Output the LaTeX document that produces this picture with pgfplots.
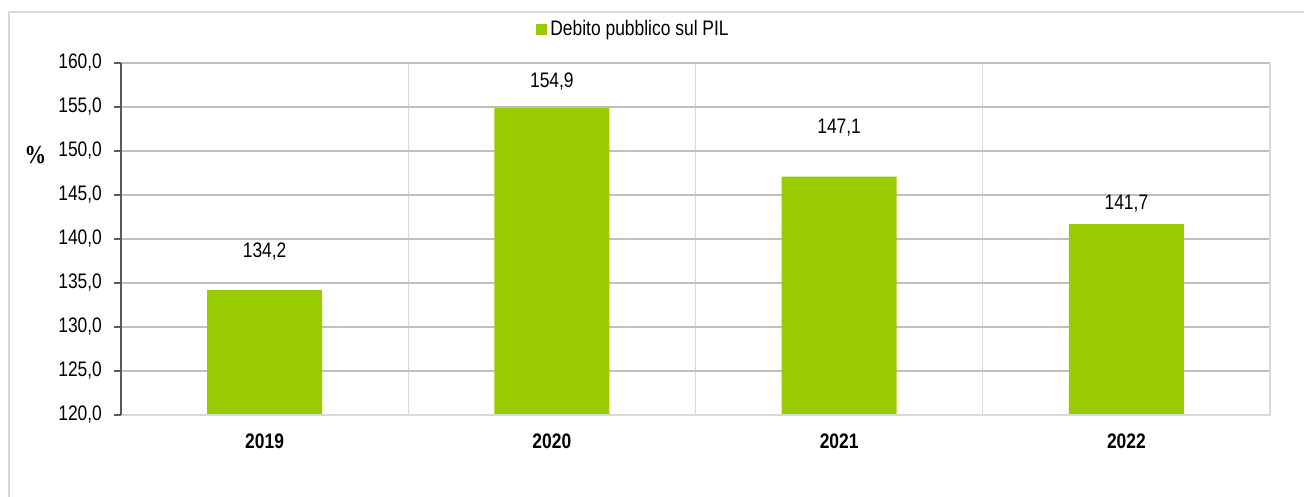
\documentclass[border=0pt]{standalone}
\usepackage{pgfplots}
\pgfplotsset{compat=1.18}
\usepackage{pgfplotstable}
\usepackage{fontspec}
\setmainfont{Liberation Sans}[FakeStretch=0.83]
\newfontfamily\pctfont{Liberation Serif}[FakeStretch=0.83]
\definecolor{barg}{HTML}{99CC00}
\definecolor{gridh}{HTML}{C0C0C0}
\definecolor{gridv}{HTML}{D9D9D9}
\definecolor{axdark}{HTML}{595959}
\pgfplotstableread{
x y lab
0 134.2 19.5
1 154.9 13
2 147.1 24.3
3 141.7 10
}\datatable

\begin{document}
\begin{tikzpicture}
\useasboundingbox (-60.5pt,-41pt) rectangle (591.5pt,207.5pt);
\draw[gridv, line width=0.75pt] (-56pt,-45pt) -- (-56pt,201.5pt) -- (600pt,201.5pt);
\begin{axis}[
  at={(0,0)}, anchor=south west,
  scale only axis, width=574.5pt, height=176pt,
  xmin=-0.5, xmax=3.5, ymin=120, ymax=160,
  ytick={120,125,...,160},
  xtick={0,1,2,3}, xticklabels={2019,2020,2021,2022},
  minor xtick={0.5,1.5,2.5},
  ymajorgrids, xminorgrids,
  major grid style={gridh, line width=0.6pt},
  minor grid style={gridv, line width=0.6pt},
  axis line style={draw=none},
  tick align=outside,
  ytick pos=left, xtick pos=bottom,
  ytick style={axdark, line width=0.6pt},
  major tick length=3.5pt,
  minor tick length=0pt,
  xtick style={draw=none},
  yticklabel style={/pgf/number format/fixed, /pgf/number format/fixed zerofill,
    /pgf/number format/precision=1, /pgf/number format/use comma,
    /pgf/number format/assume math mode=true,
    font=\fontsize{10.5}{12}\selectfont, anchor=east, xshift=-2.5pt},
  xticklabel style={font=\bfseries\fontsize{10.5}{12}\selectfont, anchor=center, yshift=-9.5pt},
  legend style={draw=none, fill=none, at={(0.4465,1.095)}, anchor=center,
    font=\fontsize{10.5}{12}\selectfont, nodes={inner sep=1.5pt}},
  legend image code/.code={\fill[barg] (0pt,-2.75pt) rectangle (5.5pt,2.75pt);},
  clip=false,
]
\addplot[ybar, bar width=0.4, bar shift=0pt, fill=barg, draw=none,
  nodes near coords={\pgfmathprintnumber[fixed,fixed zerofill,precision=1,use comma,assume math mode=true]{\pgfplotspointmeta}},
  visualization depends on={\thisrow{lab} \as \labshift},
  every node near coord/.append style={anchor=center, yshift=\labshift pt, font=\fontsize{10.5}{12}\selectfont, text=black}
] table[x=x, y=y] {\datatable};
\addlegendentry{Debito pubblico sul PIL}
\draw[gridv, line width=0.75pt] (rel axis cs:0,0) -- (rel axis cs:1,0) -- (rel axis cs:1,1);
\draw[axdark, line width=0.75pt] (rel axis cs:0,0) -- (rel axis cs:0,1);
\end{axis}
\node[font=\pctfont\bfseries\fontsize{13}{14}\selectfont] at (-42.75pt,130pt) {\%};
\end{tikzpicture}
\end{document}
